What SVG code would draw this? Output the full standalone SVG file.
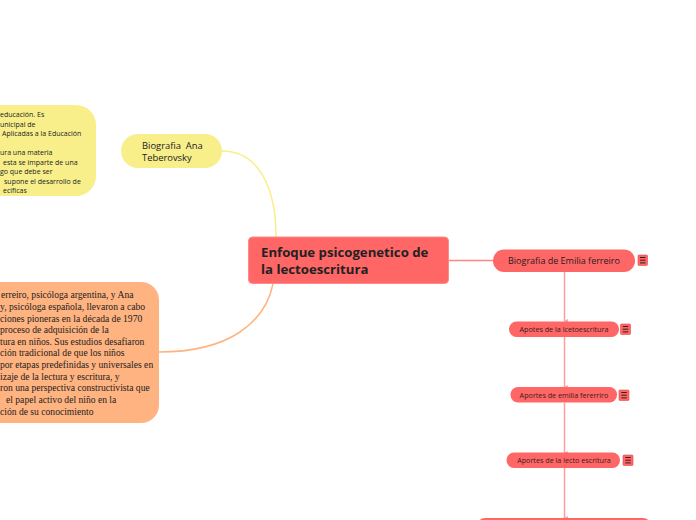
<svg xmlns="http://www.w3.org/2000/svg" width="696" height="520" viewBox="0 0 696 520">
<defs>
<style>
.sans{font-family:"Open Sans","Noto Sans","Liberation Sans",sans-serif;fill:#222}
.serif{font-family:"Liberation Serif","Times New Roman",serif;fill:#222;font-size:9.6px}
.small{font-size:7px}
.pill{fill:#FF6666}
.sub{font-size:7.2px;fill:#3a1c1c;text-anchor:middle}
.icon{fill:#FF6666;stroke:#e04848;stroke-width:0.6}
.bars{stroke:#3a1c1c;stroke-width:1}
.vline{stroke:#FF9C9C;stroke-width:1.5;fill:none}
</style>
<marker id="tick" viewBox="0 0 6 6" refX="3" refY="5" markerWidth="4" markerHeight="4" orient="auto-start-reverse" markerUnits="userSpaceOnUse">
<path d="M0,0 L6,0 L3,6 z" fill="#FF9C9C"/>
</marker>
</defs>
<rect width="696" height="520" fill="#ffffff"/>

<g id="connectors">
<path d="M222 151 C260 151 276 190 276 237" stroke="#F8EF8A" stroke-width="1.5" fill="none"/>
<path d="M159 352 C230 352 265 322 273 284" stroke="#FFB380" stroke-width="1.5" fill="none"/>
<path d="M448 260.5 L493 260.5" stroke="#FF8585" stroke-width="1.5" fill="none"/>
<path class="vline" d="M564.5 272 L564.5 321" marker-end="url(#tick)"/>
<path class="vline" d="M564.5 337 L564.5 387" marker-end="url(#tick)"/>
<path class="vline" d="M564.5 403 L564.5 453" marker-end="url(#tick)"/>
<path class="vline" d="M564.5 468 L564.5 518" marker-end="url(#tick)"/>
</g>

<g id="node-yellow-text">
<rect x="-30" y="105" width="126" height="91" rx="20" fill="#F8EF8A"/>
<text class="sans small" x="0" y="117">educación. Es</text>
<text class="sans small" x="0" y="126.5">unicipal de</text>
<text class="sans small" x="2" y="136">Aplicadas a la Educación</text>
<text class="sans small" x="0" y="155">ura una materia</text>
<text class="sans small" x="3" y="164.5">esta se imparte de una</text>
<text class="sans small" x="0" y="174">go que debe ser</text>
<text class="sans small" x="4" y="183.5">supone el desarrollo de</text>
<text class="sans small" x="3" y="193">ecificas</text>
</g>

<g id="node-ana">
<rect x="121" y="134" width="101" height="34" rx="17" fill="#F8EF8A"/>
<text class="sans" font-size="9.4" x="142" y="148.5" xml:space="preserve">Biografia  Ana</text>
<text class="sans" font-size="9.4" x="142" y="160.5">Teberovsky</text>
</g>

<g id="node-orange-text">
<rect x="-30" y="282" width="189" height="141" rx="18" fill="#FFB380"/>
<text class="serif" x="1" y="298">erreiro, psicóloga argentina, y Ana</text>
<text class="serif" x="0" y="310">y, psicóloga española, llevaron a cabo</text>
<text class="serif" x="0" y="322">ciones pioneras en la década de 1970</text>
<text class="serif" x="0" y="333">proceso de adquisición de la</text>
<text class="serif" x="0" y="345">tura en niños. Sus estudios desafiaron</text>
<text class="serif" x="0" y="356">ción tradicional de que los niños</text>
<text class="serif" x="0" y="368">por etapas predefinidas y universales en</text>
<text class="serif" x="0" y="380">izaje de la lectura y escritura, y</text>
<text class="serif" x="0" y="391">ron una perspectiva constructivista que</text>
<text class="serif" x="6" y="403">el papel activo del niño en la</text>
<text class="serif" x="0" y="415">ción de su conocimiento</text>
</g>

<g id="node-central">
<rect x="248.5" y="237" width="200" height="46.5" rx="4" fill="#FF6666" stroke="#ff8a8a" stroke-width="1"/>
<text class="sans" font-size="13.2" font-weight="bold" fill="#1a1010" x="261" y="257">Enfoque psicogenetico de</text>
<text class="sans" font-size="13.2" font-weight="bold" fill="#1a1010" x="261" y="274">la lectoescritura</text>
</g>

<g id="node-emilia">
<rect class="pill" x="493" y="249.5" width="142" height="22.5" rx="11"/>
<text class="sans" font-size="9" fill="#3a1c1c" text-anchor="middle" x="564" y="264">Biografia de Emilia ferreiro</text>
<rect class="icon" x="638" y="255" width="9.5" height="10.5" rx="1"/>
<path class="bars" d="M640 257.5h5.5M640 260.2h5.5M640 262.9h5.5"/>
</g>

<g id="node-apotes">
<rect class="pill" x="509" y="321.5" width="110" height="15.5" rx="7.5"/>
<text class="sans sub" x="564" y="332">Apotes de la lcetoescritura</text>
<rect class="icon" x="620.5" y="324" width="10" height="10.5" rx="1"/>
<path class="bars" d="M622.8 326.5h5.5M622.8 329.2h5.5M622.8 331.9h5.5"/>
</g>

<g id="node-aportes-emilia">
<rect class="pill" x="510.5" y="387" width="106.5" height="15.5" rx="7.5"/>
<text class="sans sub" x="564" y="397.5">Aportes de emilia fererriro</text>
<rect class="icon" x="619" y="390" width="10" height="10.5" rx="1"/>
<path class="bars" d="M621.3 392.5h5.5M621.3 395.2h5.5M621.3 397.9h5.5"/>
</g>

<g id="node-aportes-lecto">
<rect class="pill" x="506.5" y="452.5" width="113.5" height="15.5" rx="7.5"/>
<text class="sans sub" x="564" y="463">Aportes de la lecto escritura</text>
<rect class="icon" x="623" y="455" width="10" height="10.5" rx="1"/>
<path class="bars" d="M625.3 457.5h5.5M625.3 460.2h5.5M625.3 462.9h5.5"/>
</g>

<g id="node-bottom">
<rect class="pill" x="477" y="518" width="174" height="24" rx="8"/>
</g>
</svg>
